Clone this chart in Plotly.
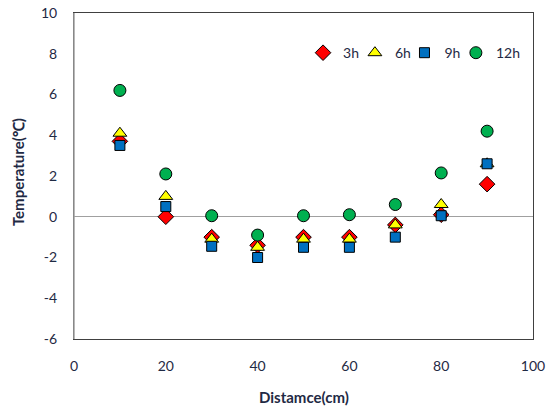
import plotly.graph_objects as go

distance = [10, 20, 30, 40, 50, 60, 70, 80, 90]
t3h = [3.7, 0.0, -1.0, -1.4, -1.0, -1.0, -0.4, 0.1, 1.6]
t6h = [4.1, 1.0, -1.1, -1.5, -1.1, -1.1, -0.4, 0.6, 2.6]
t9h = [3.5, 0.5, -1.45, -2.0, -1.5, -1.5, -1.0, 0.05, 2.6]
t12h = [6.2, 2.1, 0.05, -0.9, 0.05, 0.1, 0.6, 2.15, 4.2]
y_ticks = [-6, -4, -2, 0, 2, 4, 6, 8, 10]
y_labels = ["-6", "-4", "-2", "0", "2", "4", "6", "8", "10"]
x_ticks = [0, 20, 40, 60, 80, 100]

series = [
    ("3h", t3h, "diamond", "#FF0000", 12),
    ("6h", t6h, "triangle-up", "#FFFF00", 12),
    ("9h", t9h, "square", "#0070C0", 10),
    ("12h", t12h, "circle", "#00B050", 12),
]
legend_x = [0.499, 0.612, 0.72, 0.832]

font_family = "Lato, 'Open Sans', sans-serif"
text_color = "#1F2A44"

fig = go.Figure()
legends = {}
for i, (name, vals, sym, col, sz) in enumerate(series):
    key = "legend" if i == 0 else f"legend{i + 1}"
    fig.add_trace(go.Scatter(
        x=distance, y=vals, mode="markers", name=name, legend=key,
        marker=dict(symbol=sym, color=col, size=sz,
                    line=dict(color="#000000", width=1)),
    ))
    legends[key] = dict(orientation="h", x=legend_x[i], y=0.877,
                        xanchor="left", yanchor="middle",
                        bgcolor="rgba(0,0,0,0)",
                        font=dict(size=14, color=text_color),
                        itemwidth=30)

fig.update_layout(
    width=552, height=411,
    margin=dict(l=74, r=19, t=13, b=72, autoexpand=False),
    paper_bgcolor="white", plot_bgcolor="white",
    font=dict(family=font_family, size=14, color=text_color),
    showlegend=True,
    **legends,
    xaxis=dict(range=[0, 100], tickvals=x_ticks, automargin=False,
               showgrid=False, zeroline=False,
               showline=True, linecolor="#404040", linewidth=1, mirror=True,
               ticks="", ticklen=0, ticklabelstandoff=14),
    yaxis=dict(range=[-6, 10], tickvals=y_ticks, ticktext=y_labels, automargin=False,
               showgrid=False, zeroline=True, zerolinecolor="#A0A0A0", zerolinewidth=1,
               showline=True, linecolor="#404040", linewidth=1, mirror=True,
               ticks="", ticklen=0, ticklabelstandoff=13),
    annotations=[
        dict(text="<b>Distamce(cm)</b>", xref="paper", yref="paper",
             x=0.5, y=-0.178, xanchor="center", yanchor="middle",
             showarrow=False, font=dict(size=15, color=text_color)),
        dict(text="<b>Temperature(℃)</b>", xref="paper", yref="paper",
             x=-0.122, y=0.512, xanchor="center", yanchor="middle", textangle=-90,
             showarrow=False, font=dict(size=15, color=text_color)),
    ],
)
fig.add_shape(type="line", xref="paper", yref="paper", x0=0, x1=0, y0=0, y1=1,
              line=dict(color="#A0A0A0", width=1.5))

fig.write_html("out.html", config={"displayModeBar": False},
               post_script="document.body.style.margin='0';")
